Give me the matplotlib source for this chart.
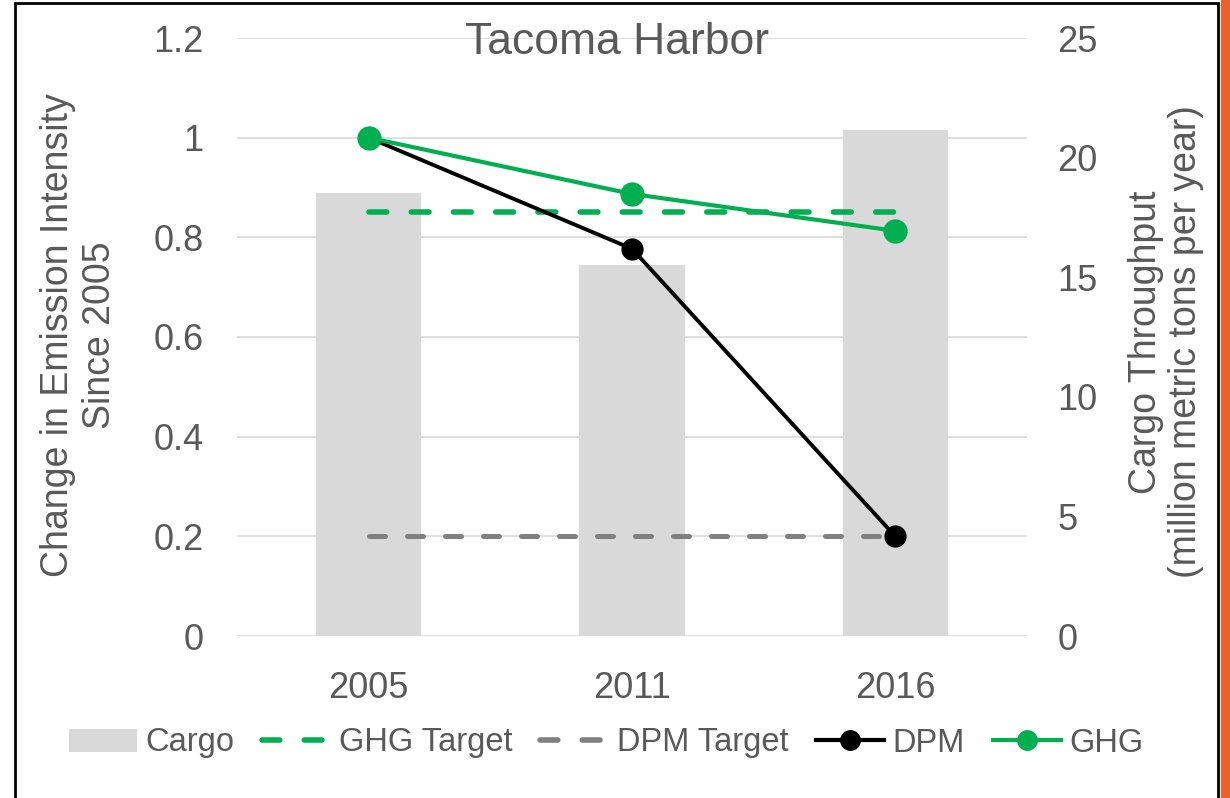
import matplotlib.pyplot as plt
from matplotlib.patches import Rectangle, Patch
from matplotlib.lines import Line2D

plt.rcParams['font.family'] = ['Liberation Sans', 'DejaVu Sans']

# ---- data ----
years = ['2005', '2011', '2016']
cargo = [18.5, 15.5, 21.15]          # million metric tons per year (right axis)
dpm = [1.0, 0.777, 0.2]
ghg = [1.0, 0.887, 0.813]
ghg_target = [0.851, 0.851, 0.851]
dpm_target = [0.2, 0.2, 0.2]
left_ticks = [0, 0.2, 0.4, 0.6, 0.8, 1.0, 1.2]
left_labels = ['0', '0.2', '0.4', '0.6', '0.8', '1', '1.2']
right_ticks = [0, 5, 10, 15, 20, 25]

TXT = '#595959'
GREEN = '#00B050'
GREY_LINE = '#808080'
GREY_BAR = '#D9D9D9'
DASH = (0, (3.2, 4.4))

fig = plt.figure(figsize=(12.3, 7.98), dpi=100)

# slide background bits: orange edge + black frame
fig.patches.append(Rectangle((1221 / 1230, 0), 1, 1, transform=fig.transFigure,
                             color='#E8622A', zorder=0))
fig.patches.append(Rectangle((15 / 1230, -0.01), 1203 / 1230, 1 - 3 / 798 + 0.01,
                             transform=fig.transFigure, fill=False,
                             edgecolor='black', linewidth=2, zorder=1))

# base axes: left scale + gridlines (drawn below everything)
base = fig.add_axes([237 / 1230, 1 - 636 / 798, 790 / 1230, 598 / 798])
base.set_ylim(0, 1.2)
base.set_yticks(left_ticks)
base.set_yticklabels(left_labels)
base.grid(axis='y', color=GREY_BAR, linewidth=1.2)
base.set_xlim(-0.5, 2.5)
x = range(len(years))
base.set_xticks(list(x))
base.set_xticklabels(years)

# bars on the right scale
axb = base.twinx()
axb.bar(x, cargo, width=0.4, color=GREY_BAR)
axb.set_ylim(0, 25)
axb.set_yticks(right_ticks)

# lines on top, sharing the left scale
axl = base.twinx()
axl.set_ylim(0, 1.2)
axl.set_yticks([])
axl.plot(x, ghg_target, color=GREEN, linestyle=DASH, linewidth=4,
         dash_capstyle='round', zorder=3)
axl.plot(x, dpm_target, color=GREY_LINE, linestyle=DASH, linewidth=3.6,
         dash_capstyle='round', zorder=3)
axl.plot(x, dpm, color='black', linewidth=2.8, marker='o', markersize=15, zorder=4)
axl.plot(x, ghg, color=GREEN, linewidth=3, marker='o', markersize=16.5, zorder=5)

for a in (base, axb, axl):
    for s in a.spines.values():
        s.set_visible(False)
    a.tick_params(length=0, labelsize=26, labelcolor=TXT)
axb.patch.set_visible(False)
axl.patch.set_visible(False)
base.tick_params(axis='y', pad=24)
axb.tick_params(axis='y', pad=22)
base.tick_params(axis='x', pad=25)

fig.text(617 / 1230, 1 - 42 / 798, 'Tacoma Harbor', ha='center', va='center',
         fontsize=32, color=TXT)
fig.text(79 / 1230, 1 - 335 / 798, 'Change in Emission Intensity\nSince 2005',
         rotation=90, ha='center', va='center', fontsize=27, color=TXT,
         linespacing=1.18)
fig.text(1166 / 1230, 1 - 342 / 798, 'Cargo Throughput\n(million metric tons per year)',
         rotation=90, ha='center', va='center', fontsize=27, color=TXT,
         linespacing=1.12)

handles = [
    Patch(facecolor=GREY_BAR),
    Line2D([], [], color=GREEN, linestyle=(0, (3.2, 4.4)), linewidth=4,
           dash_capstyle='round'),
    Line2D([], [], color=GREY_LINE, linestyle=(0, (3.2, 4.4)), linewidth=4,
           dash_capstyle='round'),
    Line2D([], [], color='black', linewidth=3, marker='o', markersize=14),
    Line2D([], [], color=GREEN, linewidth=3, marker='o', markersize=14),
]
labels = ['Cargo', 'GHG Target', 'DPM Target', 'DPM', 'GHG']
leg = fig.legend(handles, labels, loc='center', bbox_to_anchor=(606 / 1230, 1 - 743 / 798),
                 ncol=5, frameon=False, fontsize=23.5, handlelength=2.1,
                 handletextpad=0.25, columnspacing=0.85, labelcolor=TXT)

fig.savefig('out.png', dpi=100, facecolor='white')
